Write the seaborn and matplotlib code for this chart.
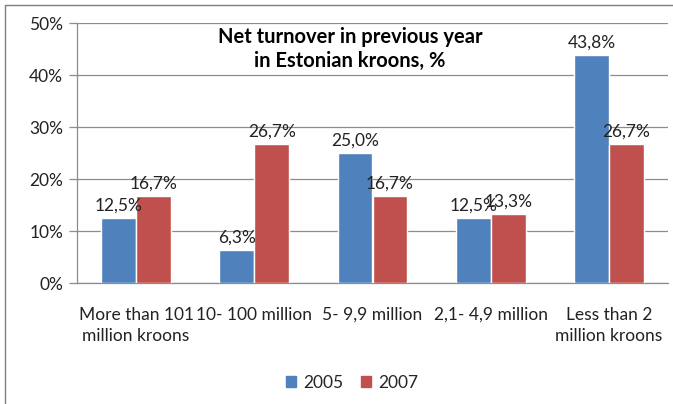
import matplotlib
matplotlib.use("Agg")
import matplotlib.pyplot as plt
import matplotlib.patches as mpatches
from matplotlib.lines import Line2D
from matplotlib.ticker import FixedLocator
import seaborn as sns
import pandas as pd

categories = ["More than 101\nmillion kroons", "10- 100 million", "5- 9,9 million",
              "2,1- 4,9 million", "Less than 2\nmillion kroons"]
years = ["2005", "2007"]
values_2005 = [12.5, 6.3, 25.0, 12.5, 43.8]
values_2007 = [16.7, 26.7, 16.7, 13.3, 26.7]
y_ticks = [0, 10, 20, 30, 40, 50]
title_text = "Net turnover in previous year\nin Estonian kroons, %"

df = pd.DataFrame({
    "category": categories * 2,
    "year": [years[0]] * len(categories) + [years[1]] * len(categories),
    "value": values_2005 + values_2007,
})

sns.set_theme(style="white")
plt.rcParams["font.family"] = ["Lato", "DejaVu Sans"]

BLUE = "#4F81BD"
RED = "#C0504D"
GRID = "#8C8C8C"
TEXT = "#222222"
FS = 12.5

fig = plt.figure(figsize=(6.73, 4.04), dpi=100)
ax = fig.add_axes([77 / 673, 1 - 283 / 404, (668 - 77) / 673, (283 - 23) / 404])

sns.barplot(data=df, x="category", y="value", hue="year", order=categories,
            hue_order=years, palette=[BLUE, RED], width=0.59, gap=0,
            saturation=1, ax=ax, legend=False, zorder=3)

for container in ax.containers:
    vals = [b.get_height() for b in container]
    ax.bar_label(container, labels=[f"{v:.1f}%".replace(".", ",") for v in vals],
                 padding=3, fontsize=FS, color=TEXT)

ax.set_xlim(-0.5, len(categories) - 0.5)
ax.set_ylim(0, 50)
ax.set_yticks(y_ticks)
ax.set_yticklabels([f"{t}%" for t in y_ticks], fontsize=FS, color=TEXT)
ax.set_xticklabels(categories, fontsize=FS, color=TEXT, linespacing=1.45)
ax.set_xlabel("")
ax.set_ylabel("")

ax.yaxis.grid(True, color=GRID, linewidth=0.9, zorder=0)
ax.set_axisbelow(True)

for side in ["top", "right"]:
    ax.spines[side].set_visible(False)
for side in ["left", "bottom"]:
    ax.spines[side].set_color(GRID)
    ax.spines[side].set_linewidth(0.9)

# Category boundary ticks on the x axis, labels centred between them
ax.tick_params(axis="x", which="major", length=0, pad=17)
ax.xaxis.set_minor_locator(FixedLocator([i - 0.5 for i in range(len(categories) + 1)]))
ax.tick_params(axis="x", which="minor", length=6, width=0.9, color=GRID, direction="out")
ax.tick_params(axis="y", which="major", length=6, width=0.9, color=GRID, direction="out",
               left=True, pad=4)

ax.text(0.462, 0.9, title_text, transform=ax.transAxes, ha="center", va="center",
        fontsize=14.5, fontweight="bold", color="black", linespacing=1.2)

handles = [mpatches.Patch(color=BLUE, label=years[0]),
           mpatches.Patch(color=RED, label=years[1])]
fig.legend(handles=handles, loc="center", bbox_to_anchor=(352 / 673, 1 - 383 / 404),
           ncol=2, frameon=False, fontsize=FS, handlelength=0.6, handleheight=0.6,
           handletextpad=0.4, columnspacing=1.0)

# Chart frame
fig.add_artist(Line2D([5 / 673, 5 / 673], [0, 1 - 5 / 404], transform=fig.transFigure,
                      color="#7F7F7F", linewidth=1.0))
fig.add_artist(Line2D([5 / 673, 1], [1 - 5 / 404, 1 - 5 / 404], transform=fig.transFigure,
                      color="#7F7F7F", linewidth=1.0))

fig.savefig("out.png", dpi=100)
